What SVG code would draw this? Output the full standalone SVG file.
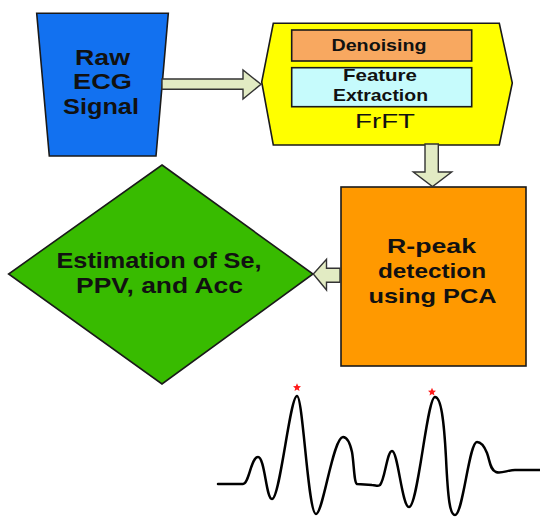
<svg xmlns="http://www.w3.org/2000/svg" width="540" height="517" viewBox="0 0 540 517">
  <style>
    .lbl { font-family: "Liberation Sans", Arial, sans-serif; font-weight: bold; fill: #111; text-anchor: middle; }
    .thin { font-weight: normal; }
    .shape { stroke: #1a1a1a; stroke-width: 1.6; stroke-linejoin: miter; }
    .arrow { fill: #e2ebc3; stroke: #333; stroke-width: 1.4; stroke-linejoin: miter; }
    .wave { fill: none; stroke: #000; stroke-width: 2.5; stroke-linejoin: round; stroke-linecap: round; }
    .peak { fill: #ff1a1a; }
  </style>
  <defs>
    <polygon id="star" points="0,-4.2 1.2,-1.4 4,-1.3 1.8,0.7 2.5,3.6 0,1.9 -2.5,3.6 -1.8,0.7 -4,-1.3 -1.2,-1.4"/>
  </defs>
  <rect width="540" height="517" fill="#fff"/>

  <!-- input signal -->
  <g id="raw-ecg">
    <polygon class="shape" fill="#1271f0" points="36.7,13.3 168.3,13.3 156,156 49.3,156"/>
    <text class="lbl" font-size="22" x="102.5" y="65" textLength="55" lengthAdjust="spacingAndGlyphs">Raw</text>
    <text class="lbl" font-size="22" x="102.5" y="89.3" textLength="59" lengthAdjust="spacingAndGlyphs">ECG</text>
    <text class="lbl" font-size="22" x="101" y="113.5" textLength="76" lengthAdjust="spacingAndGlyphs">Signal</text>
  </g>

  <!-- FrFT stage with its two sub-steps -->
  <g id="frft">
    <polygon class="shape" fill="#ffff00" points="273.3,23.3 499.3,23.3 512.3,83 499.3,145 273.3,145 261.7,82"/>
    <g id="denoising">
      <rect class="shape" fill="#f8a860" x="291.7" y="30" width="180" height="31"/>
      <text class="lbl" font-size="17" x="379" y="51" textLength="95" lengthAdjust="spacingAndGlyphs">Denoising</text>
    </g>
    <g id="feature-extraction">
      <rect class="shape" fill="#c6fbfc" x="291.7" y="67.7" width="180" height="39"/>
      <text class="lbl" font-size="17" x="380" y="81" textLength="74" lengthAdjust="spacingAndGlyphs">Feature</text>
      <text class="lbl" font-size="17" x="380.5" y="101" textLength="95" lengthAdjust="spacingAndGlyphs">Extraction</text>
    </g>
    <text class="lbl thin" font-size="21" x="385" y="127.7" textLength="60" lengthAdjust="spacingAndGlyphs">FrFT</text>
  </g>

  <!-- R-peak detection -->
  <g id="rpeak">
    <rect class="shape" fill="#ff9900" x="341" y="187" width="185" height="179"/>
    <text class="lbl" font-size="21" x="431.5" y="253.3" textLength="89" lengthAdjust="spacingAndGlyphs">R-peak</text>
    <text class="lbl" font-size="21" x="432" y="278.3" textLength="108" lengthAdjust="spacingAndGlyphs">detection</text>
    <text class="lbl" font-size="21" x="432.5" y="303.3" textLength="128" lengthAdjust="spacingAndGlyphs">using PCA</text>
  </g>

  <!-- performance evaluation -->
  <g id="estimation">
    <polygon class="shape" fill="#38bb00" points="162,165 313,274 162,384 8.6,274"/>
    <text class="lbl" font-size="21.5" x="159" y="268" textLength="205" lengthAdjust="spacingAndGlyphs">Estimation of Se,</text>
    <text class="lbl" font-size="21.5" x="159.5" y="292.5" textLength="167" lengthAdjust="spacingAndGlyphs">PPV, and Acc</text>
  </g>

  <!-- block arrows between stages -->
  <g id="connectors">
    <polygon class="arrow" points="162,79 243,79 243,70 261,84.3 243,99 243,89.3 162,89.3"/>
    <polygon class="arrow" points="425,144 438.3,144 438.3,172 451.7,172 432.5,186.5 413.3,172 425,172"/>
    <polygon class="arrow" points="340,268.3 326.5,268.3 326.5,259.3 313.3,274 326.5,290 326.5,282.3 340,282.3"/>
  </g>

  <!-- example ECG trace with detected R peaks -->
  <g id="ecg-trace">
    <path class="wave" d="M218,484 L243,484 C249,484 251,457 258,457 C265,457 266,499 272,499 C280,499 290,396 297,396 C303,396 308,514 316,514 C323,514 333,437 343,437 C347,437 350,443 352,452 C354,463 354,483 357,484 L372,485 C376,485 377,487 380,485 C385,480 387,451 392,451 C398,451 402,507 409,507 C418,507 427,397 435,397 C441,397 444,420 446,458 C448,500 450,515 455,515 C463,515 469,442 477,442 C482,442 485,448 487,453 C490,461 490,470 496,472 C501,474 508,470 515,470 L540,470"/>
    <use href="#star" class="peak" x="297" y="387.5"/>
    <use href="#star" class="peak" x="432" y="392"/>
  </g>
</svg>
